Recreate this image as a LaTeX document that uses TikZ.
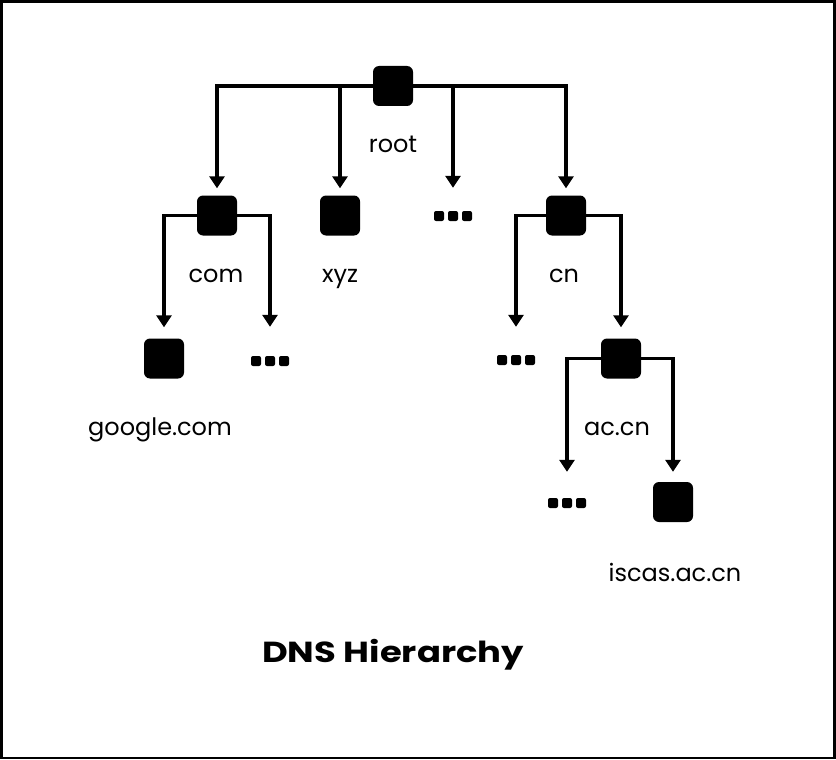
\documentclass[tikz,border=0pt]{standalone}
\usepackage{fontspec}
\setmainfont{Poppins}
\usetikzlibrary{arrows.meta}
\begin{document}
\begin{tikzpicture}[x=1pt,y=-1pt,
  box/.style={fill=black, rounded corners=6pt, minimum size=40pt, inner sep=0pt},
  dots/.style={minimum width=38pt, minimum height=10pt, inner sep=0pt,
    path picture={\fill[rounded corners=2pt]
      (path picture bounding box.south west) rectangle +(10pt,10pt)
      ([xshift=14pt]path picture bounding box.south west) rectangle +(10pt,10pt)
      ([xshift=28pt]path picture bounding box.south west) rectangle +(10pt,10pt);}},
  lbl/.style={anchor=base, inner sep=0pt, font=\fontsize{24}{27}\selectfont},
  conn/.style={line width=3.2pt, -{Triangle[width=15pt,length=12pt]}},
]
\useasboundingbox (0,0) rectangle (836,760);
\draw[line width=2.5pt] (1.5,1.5) rectangle (834.5,758);

% nodes
\node[box] (root) at (393,86) {};
\node[box] (com) at (217,215.5) {};
\node[box] (xyz) at (340,215.5) {};
\node[dots] (d1) at (453,216) {};
\node[box] (cn) at (566,215.5) {};
\node[box] (google) at (164,358.5) {};
\node[dots] (d2) at (270,361) {};
\node[dots] (d3) at (516,360) {};
\node[box] (accn) at (621,358.5) {};
\node[dots] (d4) at (567,503) {};
\node[box] (iscas) at (673,502) {};

% labels
\node[lbl] (lroot) at (393,152) {root};
\node[lbl] (lcom) at (216,282) {com};
\node[lbl] (lxyz) at (340,282) {xyz};
\node[lbl] (lcn) at (564,282) {cn};
\node[lbl] (lgoogle) at (160,435) {google.com};
\node[lbl] (laccn) at (617,435) {ac.cn};
\node[lbl] (liscas) at (675,581) {iscas.ac.cn};
\node[anchor=base, inner sep=0pt, font=\fontsize{29}{32}\selectfont\bfseries] (title) at (393,662) {\scalebox{1.22}[1]{DNS Hierarchy}};

% connectors
\draw[conn, shorten >=7pt] (root.center) -| (com.north);
\draw[conn, shorten >=7pt] (root.center) -| (xyz.north);
\draw[conn, shorten >=23pt] (root.center) -| (d1.north);
\draw[conn, shorten >=7pt] (root.center) -| (cn.north);
\draw[conn, shorten >=11pt] (com.center) -| (google.north);
\draw[conn, shorten >=29pt] (com.center) -| (d2.north);
\draw[conn, shorten >=28pt] (cn.center) -| (d3.north);
\draw[conn, shorten >=11pt] (cn.center) -| (accn.north);
\draw[conn, shorten >=26pt] (accn.center) -| (d4.north);
\draw[conn, shorten >=10pt] (accn.center) -| (iscas.north);
\end{tikzpicture}
\end{document}
